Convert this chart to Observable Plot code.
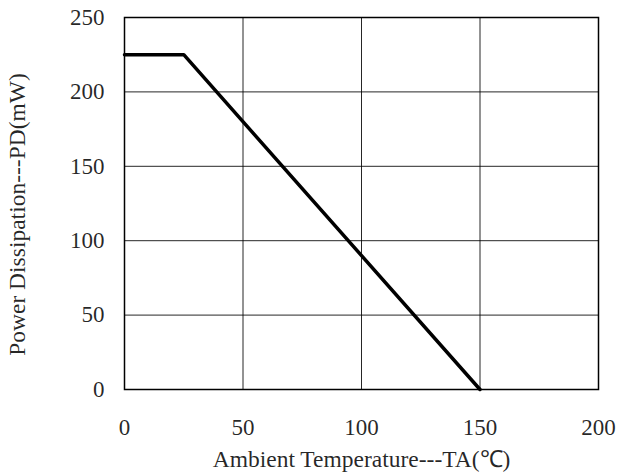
<!DOCTYPE html>
<html>
<head>
<meta charset="utf-8">
<script src="https://cdn.jsdelivr.net/npm/d3@7"></script>
<script src="https://cdn.jsdelivr.net/npm/@observablehq/plot@0.6"></script>
<style>
  html, body { margin: 0; padding: 0; background: #fff; }
  svg { font-family: "Liberation Serif", "DejaVu Serif", serif; }
  g[aria-label="x-axis label"] text { font-size: 23.5px; }
</style>
</head>
<body>
<div id="chart"></div>
<script>
const temperatureC = [0, 25, 150];
const powerMW = [225, 225, 0];
const xTicks = [0, 50, 100, 150, 200];
const yTicks = [0, 50, 100, 150, 200, 250];
const yLabel = ["Power Dissipation---PD(mW)"];

const data = temperatureC.map((t, i) => ({t, p: powerMW[i]}));

const chart = Plot.plot({
  width: 618,
  height: 474,
  marginLeft: 124,
  marginRight: 20,
  marginTop: 17,
  marginBottom: 85,
  style: {fontFamily: '"Liberation Serif", serif', fontSize: "23px", color: "#000", background: "#fff"},
  x: {domain: [0, 200]},
  y: {domain: [0, 250]},
  marks: [
    Plot.gridX(xTicks, {stroke: "#000", strokeOpacity: 0.85, strokeWidth: 1}),
    Plot.gridY(yTicks, {stroke: "#000", strokeOpacity: 0.85, strokeWidth: 1}),
    Plot.axisX(xTicks, {tickSize: 0, tickPadding: 29, label: "Ambient Temperature---TA(℃)", labelAnchor: "center", labelArrow: "none", labelOffset: 77, fill: "#000", fillOpacity: 0.85}),
    Plot.axisY(yTicks, {tickSize: 0, tickPadding: 20, label: null, fill: "#000", fillOpacity: 0.85}),
    Plot.text(yLabel, {frameAnchor: "left", textAnchor: "middle", lineAnchor: "middle", rotate: -90, dx: -107, dy: 11, fontSize: 23.5, fill: "#000", fillOpacity: 0.85}),
    Plot.frame({stroke: "#000", strokeWidth: 1.5}),
    Plot.line(data, {x: "t", y: "p", stroke: "#000", strokeWidth: 3.5})
  ]
});
document.getElementById("chart").appendChild(chart);
</script>
</body>
</html>
